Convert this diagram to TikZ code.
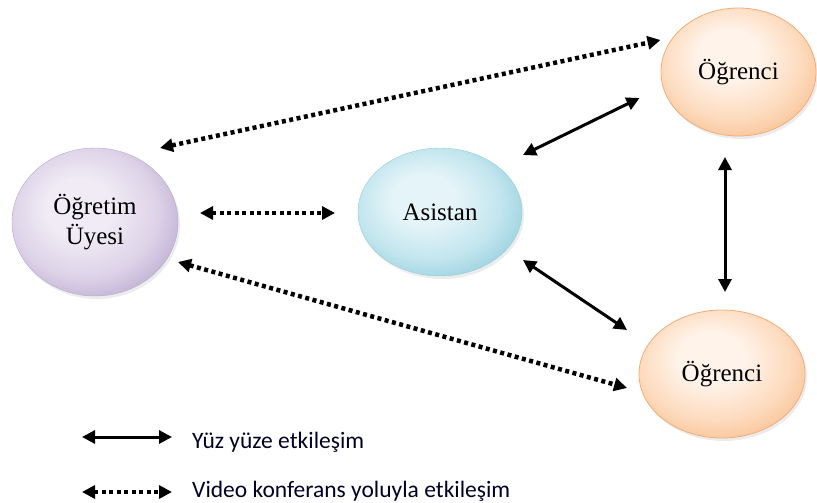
\documentclass[tikz,border=0pt]{standalone}
\usepackage{fontspec}
\setmainfont{Liberation Serif}
\newfontfamily\legendfont{Carlito}
\usetikzlibrary{shapes.geometric,arrows.meta,calc,shadows}
\definecolor{purpin}{HTML}{F0EBF5}
\definecolor{purpmid}{HTML}{DDD3E8}
\definecolor{purpout}{HTML}{B9A9CF}
\definecolor{bluein}{HTML}{E4F4F8}
\definecolor{bluemid}{HTML}{C2E5EE}
\definecolor{blueout}{HTML}{92CEDC}
\definecolor{peachin}{HTML}{FFF3EA}
\definecolor{peachmid}{HTML}{FDDCC0}
\definecolor{peachout}{HTML}{F8C090}
\definecolor{peachedge}{HTML}{F2AC78}
\pgfdeclareradialshading{purpsh}{\pgfpoint{-6bp}{6bp}}{color(0bp)=(purpin); color(10bp)=(purpin); color(22bp)=(purpmid); color(32bp)=(purpout); color(50bp)=(purpout)}
\pgfdeclareradialshading{bluesh}{\pgfpoint{-6bp}{6bp}}{color(0bp)=(bluein); color(10bp)=(bluein); color(22bp)=(bluemid); color(32bp)=(blueout); color(50bp)=(blueout)}
\pgfdeclareradialshading{peachsh}{\pgfpoint{-4bp}{8bp}}{color(0bp)=(peachin); color(10bp)=(peachin); color(22bp)=(peachmid); color(32bp)=(peachout); color(50bp)=(peachout)}
\tikzset{
  ell/.style={ellipse, inner sep=0pt, font=\fontsize{25}{28}\selectfont, align=center,
    drop shadow={opacity=0.15, shadow xshift=2pt, shadow yshift=-3pt}},
  purpleell/.style={ell, shading=purpsh, draw=purpout, line width=0.4pt},
  blueell/.style={ell, shading=bluesh, draw=blueout, line width=0.4pt},
  peachell/.style={ell, shading=peachsh, draw=peachedge, line width=0.8pt},
  solidarrow/.style={line width=3pt, {Triangle[length=13pt,width=13pt]}-{Triangle[length=13pt,width=13pt]}},
  dotarrow/.style={line width=4.5pt, dash pattern=on 4pt off 3.5pt, {Triangle[length=13pt,width=13pt]}-{Triangle[length=13pt,width=13pt]}},
  legendtext/.style={anchor=base west, inner sep=0pt, font=\legendfont\fontsize{23.5}{26}\selectfont, text=black!85!blue}
}
\begin{document}
\begin{tikzpicture}[x=1pt,y=-1pt]
\useasboundingbox (0,0) rectangle (817,503);
\node[purpleell, minimum width=166pt, minimum height=148pt] (ou) at (95,222) {\raisebox{-4pt}{\shortstack{Öğretim\\[1pt]Üyesi}}};
\node[blueell, minimum width=164pt, minimum height=128pt] (as) at (440,212) {Asistan};
\node[peachell, minimum width=155pt, minimum height=128pt] (og1) at (738.5,72) {Öğrenci};
\node[peachell, minimum width=166pt, minimum height=128pt] (og2) at (722,374) {Öğrenci};
% video conference (dotted)
\draw[dotarrow] ($(ou)+(65,-74)$) -- ($(og1)+(-78,-32)$);
\draw[dotarrow] ($(ou)+(105,-9)$) -- ($(as)+(-105,1)$);
\draw[dotarrow] ($(ou)+(83,40)$) -- ($(og2)+(-95,14)$);
% face to face (solid)
\draw[solidarrow] ($(as)+(83,-57)$) -- ($(og1)+(-99,26)$);
\draw[solidarrow] ($(as)+(83,48)$) -- ($(og2)+(-95,-44)$);
\draw[solidarrow] ($(og1)+(-13.5,85)$) -- ($(og2)+(3,-82)$);
% legend
\coordinate (l1a) at (82,437);
\coordinate (l1b) at (172,437);
\coordinate (l2a) at (82,492);
\coordinate (l2b) at (172,492);
\draw[solidarrow] (l1a) -- (l1b);
\draw[dotarrow] (l2a) -- (l2b);
\node[legendtext] (t1) at (192,448) {Yüz yüze etkileşim};
\node[legendtext] (t2) at (192,497) {Video konferans yoluyla etkileşim};
\end{tikzpicture}
\end{document}
